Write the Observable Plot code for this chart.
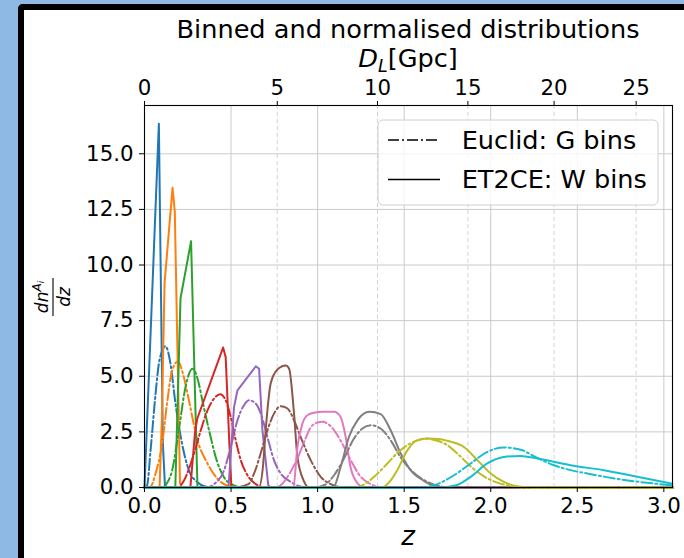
<!DOCTYPE html>
<html><head><meta charset="utf-8">
<script src="https://cdn.jsdelivr.net/npm/d3@7"></script>
<script src="https://cdn.jsdelivr.net/npm/@observablehq/plot@0.6"></script>
<style>
html,body{margin:0;padding:0;width:684px;height:558px;overflow:hidden;background:#8db9e4;}
#frame{position:absolute;left:18px;top:4px;width:700px;height:600px;background:#fff;border-left:6px solid #000;border-top:6px solid #000;border-top-left-radius:5px;}
#chart{position:absolute;left:0;top:0;}
</style></head><body><div id="frame"><div id="chart"></div></div>
<script>
// ---- data ----
const binColors = ["#1f77b4","#ff7f0e","#2ca02c","#d62728","#9467bd","#8c564b","#e377c2","#7f7f7f","#bcbd22","#17becf"];
const zTicks = [0,0.5,1.0,1.5,2.0,2.5,3.0];
const yTicks = [0,2.5,5,7.5,10,12.5,15];
const dlLabels = [0,5,10,15,20,25];
const dlTickZ = [0,0.767,1.346,1.868,2.366,2.84];
const zMax = 3.05, yMax = 17.17;

// Euclid: G bins (dash-dot)
const euclidG1 = [[0,0],[0.015,0.1],[0.035,1.67],[0.064,4.22],[0.083,5.57],[0.1,6.1],[0.121,6.35],[0.15,5.57],[0.179,3.77],[0.217,1.97],[0.256,0.78],[0.304,0.25],[0.35,0.05],[0.4,0]];
const euclidG2 = [[0.03,0],[0.064,0.63],[0.102,1.97],[0.13,3.77],[0.16,5.27],[0.192,5.66],[0.227,4.97],[0.257,3.9],[0.306,2.12],[0.364,1.08],[0.421,0.4],[0.48,0.08],[0.55,0]];
const euclidG3 = [[0.1,0],[0.13,0.2],[0.16,0.78],[0.198,2.57],[0.237,4.52],[0.277,5.34],[0.313,4.7],[0.33,4.07],[0.373,2.57],[0.42,1.15],[0.46,0.45],[0.51,0.12],[0.57,0]];
const euclidG4 = [[0.19,0],[0.229,0.33],[0.286,1.53],[0.325,2.57],[0.364,3.47],[0.402,4.0],[0.437,4.19],[0.469,3.92],[0.498,3.17],[0.527,2.12],[0.556,1.23],[0.595,0.55],[0.643,0.15],[0.7,0]];
const euclidG5 = [[0.36,0],[0.402,0.15],[0.46,0.78],[0.498,1.82],[0.537,3.02],[0.575,3.7],[0.604,3.92],[0.643,3.77],[0.681,3.1],[0.71,2.27],[0.748,1.23],[0.787,0.63],[0.845,0.25],[0.9,0.05],[0.96,0]];
const euclidG6 = [[0.52,0],[0.6,0.15],[0.633,0.63],[0.671,1.53],[0.71,2.57],[0.748,3.32],[0.787,3.65],[0.826,3.55],[0.864,3.02],[0.902,2.27],[0.96,1.23],[1.018,0.48],[1.076,0.15],[1.15,0]];
const euclidG7 = [[0.76,0],[0.8,0.2],[0.826,0.48],[0.883,1.3],[0.93,2.2],[0.96,2.7],[1.0,2.92],[1.028,2.95],[1.076,2.75],[1.133,2.1],[1.191,1.23],[1.249,0.48],[1.307,0.15],[1.38,0]];
const euclidG8 = [[0.98,0],[1.037,0.1],[1.095,0.55],[1.152,1.3],[1.21,2.2],[1.259,2.65],[1.307,2.8],[1.364,2.65],[1.422,2.12],[1.48,1.35],[1.537,0.8],[1.6,0.4],[1.634,0.25],[1.71,0.05],[1.78,0]];
const euclidG9 = [[1.22,0],[1.26,0.1],[1.326,0.48],[1.403,1.08],[1.46,1.55],[1.518,1.9],[1.576,2.12],[1.62,2.2],[1.692,2.1],[1.75,1.9],[1.807,1.53],[1.884,0.95],[1.961,0.5],[2.038,0.22],[2.13,0.05],[2.2,0]];
const euclidG10 = [[1.6,0],[1.672,0.1],[1.788,0.55],[1.884,1.08],[1.98,1.6],[2.076,1.8],[2.173,1.7],[2.269,1.33],[2.365,1.0],[2.461,0.78],[2.558,0.63],[2.75,0.36],[2.942,0.18],[3.05,0.1]];

// ET2CE: W bins (solid)
const et2ceW1 = [[0,0],[0.083,16.35],[0.106,2.0],[0.118,0.1],[0.13,0]];
const et2ceW2 = [[0.087,0],[0.1,3.0],[0.116,9.2],[0.162,13.47],[0.175,12.4],[0.205,0.2],[0.215,0]];
const et2ceW3 = [[0.178,0],[0.208,8.5],[0.269,11.07],[0.306,0]];
const et2ceW4 = [[0.265,0],[0.292,2.5],[0.305,3.1],[0.454,6.29],[0.469,5.86],[0.49,2.0],[0.502,0]];
const et2ceW5 = [[0.485,0],[0.517,3.6],[0.537,4.37],[0.643,5.45],[0.662,5.34],[0.681,2.6],[0.715,0.1],[0.73,0]];
const et2ceW6 = [[0.66,0],[0.685,1.0],[0.7,2.57],[0.729,4.67],[0.768,5.3],[0.816,5.48],[0.835,5.35],[0.864,3.3],[0.883,1.4],[0.92,0.3],[0.95,0]];
const et2ceW7 = [[0.86,0],[0.883,1.8],[0.912,2.87],[0.941,3.25],[0.98,3.36],[1.03,3.4],[1.095,3.4],[1.133,3.17],[1.162,2.27],[1.19,0.92],[1.23,0.2],[1.27,0]];
const et2ceW8 = [[1.09,0],[1.133,0.92],[1.181,2.27],[1.23,3.02],[1.3,3.4],[1.364,3.3],[1.422,2.57],[1.48,1.53],[1.537,0.78],[1.614,0.3],[1.69,0.03],[1.75,0]];
const et2ceW9 = [[1.37,0],[1.42,0.3],[1.46,0.78],[1.518,1.67],[1.576,2.12],[1.636,2.2],[1.7,2.18],[1.749,2.1],[1.845,1.82],[1.923,1.23],[2.0,0.63],[2.076,0.25],[2.16,0.05],[2.25,0]];
const et2ceW10 = [[1.7,0],[1.8,0.1],[1.884,0.48],[1.98,1.08],[2.076,1.37],[2.173,1.42],[2.269,1.3],[2.35,1.18],[2.461,1.0],[2.654,0.78],[2.846,0.48],[3.05,0.17]];

const euclidG = [euclidG1,euclidG2,euclidG3,euclidG4,euclidG5,euclidG6,euclidG7,euclidG8,euclidG9,euclidG10];
const et2ceW = [et2ceW1,et2ceW2,et2ceW3,et2ceW4,et2ceW5,et2ceW6,et2ceW7,et2ceW8,et2ceW9,et2ceW10];

// ---- build ----
const dashDot = "11,3,2,3";
function toRows(arr){
  const pts = arr.slice();
  if (pts[0][0] > 0) pts.unshift([0,0]);
  if (pts[pts.length-1][0] < zMax) pts.push([zMax,0]);
  return pts.map(([z,v])=>({z,v}));
}
const lineMarks = [];
binColors.forEach((c,i)=>{
  lineMarks.push(Plot.line(toRows(euclidG[i]), {x:"z", y:"v", stroke:c, strokeWidth:2, strokeDasharray:dashDot, curve:"monotone-x"}));
  lineMarks.push(Plot.line(toRows(et2ceW[i]), {x:"z", y:"v", stroke:c, strokeWidth:2, curve: i < 5 ? "linear" : "monotone-x"}));
});

const W = 660, H = 548;
const svg = Plot.plot({
  width: W, height: H,
  marginLeft: 120, marginRight: 12, marginTop: 95, marginBottom: 71,
  style: {fontFamily: "'DejaVu Sans', sans-serif", fontSize: "21.3px", color: "#000", background: "transparent"},
  x: {domain: [0, zMax]},
  y: {domain: [0, yMax]},
  marks: [
    Plot.gridY(yTicks, {stroke: "#cacaca", strokeOpacity: 1, strokeWidth: 1}),
    Plot.gridX(zTicks.filter(t => t > 0), {stroke: "#cacaca", strokeOpacity: 1, strokeWidth: 1}),
    Plot.gridX(dlTickZ.filter(t => t > 0), {stroke: "#d4d4d4", strokeOpacity: 1, strokeWidth: 1, strokeDasharray: "4,3"}),
    ...lineMarks,
    Plot.frame({stroke: "#000", strokeWidth: 1.1}),
    Plot.axisY(yTicks, {tickFormat: d => d.toFixed(1), tickSize: 5, tickPadding: 6, label: null, stroke: "#000"}),
    Plot.axisX(zTicks, {anchor: "bottom", tickFormat: d => d.toFixed(1), tickSize: 5, tickPadding: 5, label: null, stroke: "#000"}),
    Plot.axisX(dlTickZ, {anchor: "top", tickFormat: d => String(dlLabels[dlTickZ.indexOf(d)]), tickSize: 5, tickPadding: 6, label: null, stroke: "#000"})
  ]
});
document.getElementById("chart").appendChild(svg);

const s = d3.select(svg);
const cx = 120 + (W - 120 - 12) / 2;
s.append("text").attr("x", cx).attr("y", 28).attr("text-anchor", "middle")
  .attr("font-size", 25.6).attr("fill", "#000").text("Binned and normalised distributions");
const dl = s.append("text").attr("x", cx).attr("y", 57).attr("text-anchor", "middle").attr("font-size", 25.6).attr("fill", "#000");
dl.append("tspan").attr("font-style", "italic").text("D");
dl.append("tspan").attr("font-style", "italic").attr("font-size", 17.5).attr("dy", 5).text("L");
dl.append("tspan").attr("dy", -5).text("[Gpc]");
s.append("text").attr("x", cx).attr("y", 535).attr("text-anchor", "middle")
  .attr("font-size", 26).attr("font-style", "italic").attr("fill", "#000").text("z");

// y label: dn^{A_i}/dz
const yl = s.append("g").attr("transform", "translate(29,287) rotate(-90)");
yl.append("line").attr("x1", -19).attr("x2", 19).attr("y1", 0).attr("y2", 0).attr("stroke", "#000").attr("stroke-width", 1.1);
const num = yl.append("text").attr("x", 0).attr("y", -5).attr("text-anchor", "middle").attr("font-size", 17).attr("fill", "#000");
num.append("tspan").attr("font-style", "italic").text("dn");
num.append("tspan").attr("font-style", "italic").attr("font-size", 12).attr("dy", -7).text("A");
num.append("tspan").attr("font-style", "italic").attr("font-size", 9).attr("dy", 3).text("i");
yl.append("text").attr("x", 0).attr("y", 17).attr("text-anchor", "middle").attr("font-size", 17)
  .attr("font-style", "italic").attr("fill", "#000").text("dz");

// legend
const lg = s.append("g");
lg.append("rect").attr("x", 354).attr("y", 110).attr("width", 280).attr("height", 85).attr("rx", 5)
  .attr("fill", "#fff").attr("fill-opacity", 0.8).attr("stroke", "#d0d0d0").attr("stroke-width", 1);
const legendItems = [["Euclid: G bins", dashDot, 130, 138.5], ["ET2CE: W bins", null, 169.5, 177.5]];
legendItems.forEach(([label, dash, ly, ty]) => {
  const l = lg.append("line").attr("x1", 364).attr("x2", 416).attr("y1", ly).attr("y2", ly)
    .attr("stroke", "#000").attr("stroke-width", 1.7);
  if (dash) l.attr("stroke-dasharray", dash);
  lg.append("text").attr("x", 437.7).attr("y", ty).attr("text-anchor", "start")
    .attr("font-size", 25.6).attr("fill", "#000").text(label);
});
</script></body></html>
